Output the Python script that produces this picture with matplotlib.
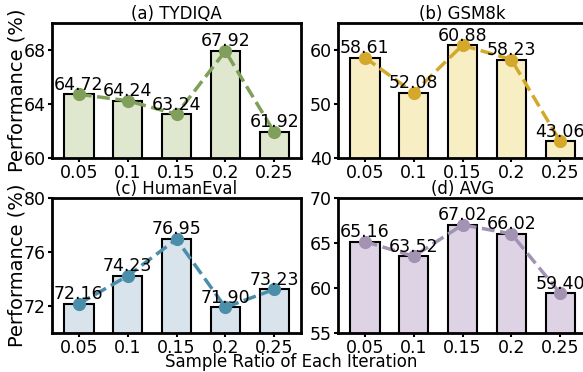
import numpy as np
import matplotlib
matplotlib.use("Agg")
from matplotlib import pyplot as plt

# data
ratios = ["0.05", "0.1", "0.15", "0.2", "0.25"]
tydiqa = [64.72, 64.24, 63.24, 67.92, 61.92]
gsm8k = [58.61, 52.08, 60.88, 58.23, 43.06]
humaneval = [72.16, 74.23, 76.95, 71.90, 73.23]
avg = [65.16, 63.52, 67.02, 66.02, 59.40]

titles = ["(a) TYDIQA", "(b) GSM8k", "(c) HumanEval", "(d) AVG"]
ylims = [(60, 70), (40, 65), (70, 80), (55, 70)]
yticks = [[60, 64, 68], [40, 50, 60], [72, 76, 80], [55, 60, 65, 70]]
fills = ["#dfe8cf", "#f8eec3", "#d9e3ec", "#ded3e5"]
lines = ["#7f9f5a", "#d4a82a", "#4a8eaa", "#a293b3"]

plt.rcParams["font.family"] = "DejaVu Sans"

fig = plt.figure(figsize=(5.83, 3.72), dpi=100)

# axes boxes in figure fractions (left, bottom, width, height)
W, H = 5.83 * 100, 3.72 * 100
boxes = [
    (52 / W, 1 - 158 / H, 249 / W, 135 / H),
    (338 / W, 1 - 158 / H, 249 / W, 135 / H),
    (52 / W, 1 - 333 / H, 249 / W, 135 / H),
    (338 / W, 1 - 333 / H, 249 / W, 135 / H),
]

series = [tydiqa, gsm8k, humaneval, avg]
x = np.arange(len(ratios))

for i, vals in enumerate(series):
    ax = fig.add_axes(boxes[i])
    ax.bar(x, vals, width=0.6, color=fills[i], edgecolor="black", linewidth=1.5, zorder=2)
    ax.plot(x, vals, linestyle="--", color=lines[i], linewidth=2.5,
            marker="o", markersize=8.5, zorder=4)
    for xi, v in zip(x, vals):
        ax.annotate(f"{v:.2f}", (xi, v), xytext=(0, 0.5), textcoords="offset points",
                    ha="center", va="bottom", fontsize=12.5, zorder=5)
    ax.set_ylim(ylims[i])
    ax.set_yticks(yticks[i])
    ax.set_xlim(-0.55, 4.55)
    ax.set_xticks(x)
    ax.set_xticklabels(ratios)
    ax.tick_params(axis="both", labelsize=12.5, width=1.5, length=3, pad=1.5)
    ax.set_title(titles[i], fontsize=12, pad=3)
    for s in ax.spines.values():
        s.set_linewidth(2)
    if i % 2 == 0:
        ax.set_ylabel("Performance (%)", fontsize=14, labelpad=-2)

fig.text(0.5, 5 / H, "Sample Ratio of Each Iteration", ha="center", va="baseline", fontsize=12)

plt.savefig("out.png", dpi=100)
